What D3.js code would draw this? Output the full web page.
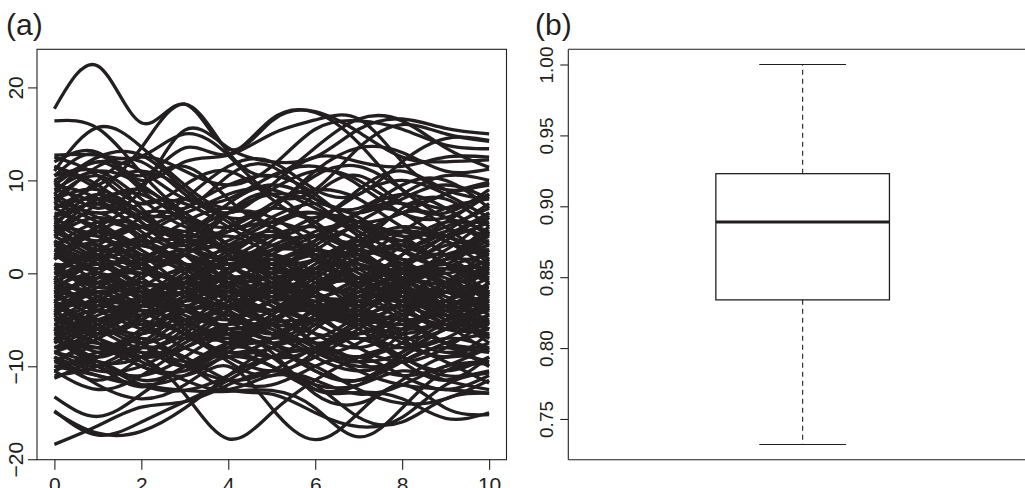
<!DOCTYPE html>
<html>
<head>
<meta charset="utf-8">
<script src="https://cdn.jsdelivr.net/npm/d3@7"></script>
<style>
  body { margin: 0; background: #fff; }
  svg { display: block; }
  text { font-family: "Liberation Sans", Arial, Helvetica, sans-serif; fill: #231f20; }
</style>
</head>
<body>
<svg id="fig" width="1025" height="488"></svg>
<script>
// ---- data ----------------------------------------------------------------
// evaluation grid shared by every curve in panel (a)
const tGrid = [0, 1, 2, 3, 4, 5, 6, 7, 8, 9, 10];

// curves running high above the bulk
const upperCurves = [
  [17.7, 22.3, 16.2, 18.2, 13.4, 16.4, 17.4, 15.2, 12.5, 12.0, 12.2],
  [16.4, 15.6, 10.8, 6.5, 5.0, 7.5, 9.0, 8.0, 5.0, 4.0, 5.5],
  [11.0, 15.7, 13.6, 9.5, 7.0, 9.0, 11.0, 10.0, 7.5, 8.5, 9.8],
  [4.5, 8.5, 13.5, 18.2, 13.0, 10.5, 13.5, 16.6, 16.4, 13.5, 11.4],
  [8.0, 6.5, 9.0, 15.4, 13.5, 12.0, 12.5, 15.5, 16.6, 15.6, 15.0],
  [12.7, 12.7, 12.6, 15.0, 12.7, 8.5, 9.0, 13.5, 16.0, 15.0, 14.2],
  [12.0, 13.0, 10.5, 13.5, 12.8, 16.6, 17.3, 14.0, 9.0, 7.0, 8.5],
  [10.5, 12.8, 10.0, 12.0, 12.7, 15.0, 16.5, 16.6, 12.0, 9.0, 9.7],
  [6.0, 10.0, 12.5, 11.0, 9.5, 11.5, 15.5, 16.4, 15.5, 13.8, 13.4],
  [9.5, 12.5, 12.7, 9.0, 6.5, 9.5, 12.5, 12.0, 11.5, 12.5, 12.5],
  [11.5, 9.0, 6.0, 8.0, 11.5, 12.0, 9.0, 8.5, 12.0, 14.5, 14.3],
  [7.5, 11.5, 12.0, 8.5, 6.0, 7.0, 11.0, 13.5, 13.0, 11.0, 11.2]
];

// curves running low below the bulk
const lowerCurves = [
  [-18.4, -16.4, -14.4, -13.8, -12.0, -10.5, -11.5, -13.0, -12.0, -10.0, -9.5],
  [-14.8, -17.4, -16.0, -13.8, -11.5, -9.0, -8.5, -10.5, -12.0, -12.5, -12.9],
  [-14.9, -17.2, -17.0, -14.5, -11.0, -8.0, -7.5, -9.5, -11.0, -10.0, -8.0],
  [-13.3, -15.4, -13.0, -10.0, -8.5, -10.0, -12.5, -12.0, -9.0, -7.0, -8.0],
  [-6.0, -7.5, -9.0, -13.0, -17.8, -15.0, -11.5, -9.0, -8.0, -9.5, -11.8],
  [-10.0, -11.0, -12.0, -12.6, -12.7, -12.6, -14.5, -17.6, -14.5, -10.5, -9.7],
  [-9.0, -12.0, -13.5, -12.0, -10.0, -14.5, -17.9, -15.0, -12.0, -14.5, -15.2],
  [-11.3, -9.0, -7.0, -9.5, -12.5, -13.0, -15.0, -16.5, -15.5, -12.0, -10.7],
  [-8.5, -10.0, -12.2, -10.0, -8.0, -9.0, -12.5, -12.8, -13.5, -15.6, -15.0],
  [-9.5, -8.0, -9.5, -11.5, -12.5, -11.0, -12.0, -15.5, -16.0, -13.5, -12.9],
  [-10.5, -12.5, -11.0, -8.0, -6.5, -8.5, -13.0, -14.0, -11.5, -9.0, -9.5],
  [-7.0, -9.5, -12.0, -12.6, -11.0, -9.0, -10.0, -12.5, -14.0, -13.5, -11.5]
];

// the dense middle of the sample: slower oscillations
const coreCurves = [
  [8.0, 10.5, 7.0, 3.0, 1.5, 3.5, 6.0, 5.5, 3.0, 4.5, 7.5],
  [6.0, 3.0, 0.5, 2.0, 5.0, 7.0, 5.5, 2.0, 0.0, 1.5, 4.0],
  [4.0, 7.5, 9.0, 6.0, 2.0, 0.0, 1.5, 4.0, 6.5, 6.0, 3.0],
  [2.0, -1.0, -3.0, -1.0, 2.5, 4.0, 2.0, -1.5, -3.0, -1.0, 2.5],
  [0.0, 2.5, 3.5, 1.0, -2.5, -4.0, -2.0, 1.5, 3.0, 1.0, -2.0],
  [-2.0, -5.0, -6.5, -4.0, 0.0, 1.5, -0.5, -4.0, -5.5, -3.0, 0.5],
  [-4.0, -1.0, 0.5, -1.5, -5.0, -7.0, -5.0, -1.5, 0.5, -1.5, -4.5],
  [-6.0, -8.5, -7.5, -4.0, -2.0, -3.5, -6.5, -8.0, -6.0, -3.0, -2.0],
  [-8.0, -5.5, -3.0, -3.5, -6.5, -9.0, -8.0, -5.0, -3.5, -5.5, -8.5],
  [-3.0, 0.5, 1.0, -2.0, -4.5, -3.0, 0.5, 2.5, 0.5, -3.0, -5.0],
  [1.0, -2.5, -4.5, -3.0, 0.5, 2.0, 0.0, -3.5, -5.0, -4.0, -1.0],
  [5.0, 4.0, 1.0, -1.0, 0.0, 2.5, 4.0, 2.5, -0.5, -2.0, -0.5],
  [-5.0, -2.5, -1.0, -2.5, -3.5, -1.5, 1.5, 2.0, -0.5, -3.5, -5.5],
  [-7.0, -9.5, -9.0, -6.0, -3.5, -4.5, -7.5, -9.0, -7.5, -5.0, -4.0],
  [3.0, 5.5, 5.0, 2.0, -1.5, -2.5, -0.5, 2.5, 4.5, 3.5, 0.5],
  [-1.0, 1.5, 4.0, 4.5, 2.0, -1.0, -2.5, -1.0, 2.0, 4.5, 4.0],
  [9.5, 8.0, 4.5, 2.5, 3.5, 6.0, 7.5, 6.0, 4.0, 5.0, 7.0],
  [7.0, 9.5, 11.0, 9.0, 5.5, 4.0, 5.5, 8.5, 10.0, 8.5, 6.0],
  [-9.5, -7.0, -5.5, -6.5, -9.0, -10.5, -9.0, -6.5, -5.5, -7.5, -10.0],
  [-4.5, -6.5, -4.5, -1.0, 1.0, -0.5, -3.5, -5.0, -3.0, 0.5, 2.0],
  [0.5, -1.5, -0.5, 2.5, 4.0, 2.0, -1.0, -2.0, 0.5, 3.0, 3.5],
  [-2.5, -3.5, -1.5, 0.5, -0.5, -3.0, -5.0, -4.0, -1.0, 0.5, -1.0],
  [-5.5, -4.0, -5.5, -8.0, -9.0, -7.0, -4.0, -3.0, -5.0, -7.5, -8.0],
  [2.5, 0.0, -2.0, -4.5, -5.5, -4.0, -1.0, 0.5, -0.5, -3.5, -6.0],
  [6.5, 5.0, 2.5, 0.5, 1.5, 4.0, 5.0, 3.5, 1.0, -1.0, 0.0],
  [-3.5, -6.0, -8.0, -6.5, -3.0, -1.5, -2.5, -5.0, -6.5, -5.0, -2.5],
  [-6.5, -4.5, -2.5, -0.5, -1.0, -3.0, -4.0, -2.5, 0.0, 1.0, -0.5],
  [3.5, 1.5, 1.5, 4.0, 6.5, 6.0, 3.0, 0.0, -1.0, 1.5, 5.0],
  [-1.5, 0.0, -2.0, -5.0, -6.5, -5.0, -2.0, 0.5, 0.0, -2.0, -3.0],
  [-8.5, -10.0, -8.0, -5.0, -4.5, -6.5, -8.5, -7.5, -4.5, -3.0, -4.0],
  [10.5, 11.0, 8.0, 5.0, 4.5, 7.0, 10.5, 11.5, 9.0, 6.0, 5.5],
  [8.5, 6.0, 5.0, 7.0, 9.5, 10.5, 8.5, 5.0, 3.5, 5.5, 8.5],
  [-10.0, -9.0, -6.5, -4.0, -3.5, -5.5, -8.0, -9.5, -8.5, -6.0, -5.5],
  [1.5, 3.5, 2.0, -1.5, -3.5, -2.0, 1.0, 3.0, 1.5, -1.5, -3.5],
  [-0.5, -3.0, -5.0, -5.5, -3.5, -1.0, 0.5, -0.5, -3.0, -5.5, -6.5],
  [-4.0, -3.0, -4.0, -6.5, -8.5, -8.0, -5.5, -3.0, -2.0, -4.5, -7.0],
  [4.5, 2.0, 0.0, 0.5, 3.0, 5.5, 6.5, 4.0, 1.0, 0.0, 1.5],
  [-7.5, -6.0, -7.5, -9.5, -8.0, -5.0, -3.5, -5.0, -7.5, -9.0, -8.0],
  [0.0, -0.5, 1.5, 3.5, 2.5, -0.5, -2.5, -2.5, -0.5, 1.5, 1.0],
  [-2.0, -1.0, -2.5, -3.5, -1.5, 1.0, 2.5, 1.0, -2.0, -4.0, -3.5],
  [5.5, 8.0, 8.5, 5.5, 2.5, 1.5, 3.5, 6.5, 7.5, 5.0, 1.5],
  [-9.0, -10.5, -10.0, -7.5, -5.5, -6.0, -8.5, -10.0, -9.5, -7.5, -6.5],
  [-6.0, -3.5, -1.5, -1.5, -3.5, -5.5, -5.0, -2.5, -1.5, -3.5, -6.0],
  [2.0, 4.5, 6.5, 6.0, 3.0, 1.0, 1.5, 3.5, 5.0, 4.0, 2.0],
  [-3.0, -5.0, -3.0, 0.0, 1.5, 0.0, -2.5, -3.0, -1.0, 1.5, 2.5],
  [7.5, 5.5, 3.0, 3.5, 6.5, 8.5, 7.5, 4.0, 1.5, 2.5, 6.0],
  [-5.0, -7.0, -8.5, -8.0, -5.5, -3.0, -3.5, -6.0, -8.0, -7.0, -4.5],
  [-1.0, 2.0, 3.0, 1.0, -1.0, 0.0, 3.0, 5.0, 4.0, 1.0, -0.5],
  [3.0, 1.0, -1.0, -1.5, 0.5, 2.5, 2.0, -0.5, -2.5, -1.0, 1.5],
  [-7.0, -5.0, -4.0, -5.5, -7.5, -7.0, -4.5, -2.0, -2.5, -5.0, -6.5],
  [-4.5, -2.0, -2.5, -5.0, -7.0, -5.5, -2.0, -0.5, -2.0, -4.5, -4.0],
  [1.0, 0.0, -2.5, -3.0, -1.0, -1.5, -4.0, -5.5, -4.0, -1.5, 0.0],
  [-8.0, -8.0, -10.0, -11.0, -8.5, -5.5, -5.5, -8.0, -9.5, -8.0, -5.0],
  [6.0, 7.5, 5.5, 2.0, 0.5, 2.0, 4.5, 5.0, 3.0, 2.0, 3.5],
  [-2.5, -0.5, 0.0, -1.0, -2.0, -1.0, -2.0, -4.5, -6.0, -5.0, -2.0],
  [4.0, 6.0, 4.0, 0.5, -2.0, -1.5, 0.5, 1.0, -0.5, -1.0, 1.0],
  [-6.5, -8.0, -6.0, -2.5, -1.5, -3.5, -5.0, -3.5, -1.0, -1.5, -4.0],
  [-3.5, -1.5, 1.0, 2.5, 1.0, -2.0, -3.5, -2.0, 0.0, -0.5, -3.0],
  [11.5, 9.5, 6.5, 6.5, 8.5, 9.0, 7.0, 5.5, 6.5, 8.5, 9.5],
  [9.0, 11.0, 9.5, 6.0, 2.5, 1.0, 2.5, 5.5, 8.0, 9.5, 8.0],
  [-10.5, -8.5, -8.5, -10.0, -11.5, -10.5, -8.0, -7.0, -9.0, -11.0, -10.5],
  [-0.5, -2.5, -3.0, -1.0, 1.0, 0.5, -1.5, -1.5, 1.0, 2.0, 0.0],
  [2.5, 3.0, 0.5, -2.5, -3.5, -1.5, 0.0, -1.5, -4.0, -5.5, -4.5],
  [-5.5, -6.5, -5.0, -3.0, -4.0, -6.5, -7.0, -4.5, -2.0, -2.5, -5.5],
  [5.0, 2.5, 3.0, 5.5, 7.0, 5.0, 1.5, -0.5, 1.0, 4.0, 6.0],
  [-1.5, -4.0, -6.0, -7.0, -5.5, -3.0, -3.0, -5.5, -7.0, -6.0, -3.0],
  [-8.5, -6.0, -3.5, -2.0, -2.5, -4.5, -6.5, -6.5, -4.5, -2.0, -1.5],
  [0.5, 1.5, -0.5, -3.5, -5.0, -3.0, 0.0, 1.0, -1.5, -4.5, -5.0],
  [7.0, 8.0, 6.0, 4.0, 4.5, 5.5, 4.0, 1.5, 1.0, 3.5, 6.5],
  [-4.0, -7.0, -9.0, -8.0, -6.0, -6.5, -9.0, -10.5, -9.0, -6.0, -5.5]
];

// the dense middle of the sample: faster oscillations
const wigglyCurves = [
  [10.0, 7.0, 9.5, 11.5, 8.0, 5.5, 8.5, 10.5, 7.5, 6.5, 9.0],
  [12.5, 10.5, 7.5, 9.5, 11.0, 8.0, 6.0, 9.0, 11.0, 9.0, 8.0],
  [8.5, 12.0, 9.0, 7.0, 10.5, 11.5, 8.0, 7.0, 9.5, 10.0, 7.0],
  [5.0, 8.5, 5.5, 3.0, 6.5, 8.5, 5.0, 3.5, 7.0, 8.0, 5.0],
  [3.5, 0.5, 3.5, 6.0, 3.0, 0.5, 3.5, 5.5, 2.5, 1.0, 4.5],
  [1.5, 4.5, 1.5, -1.0, 2.0, 4.5, 1.5, -1.0, 2.0, 4.0, 1.0],
  [-0.5, -3.5, -0.5, 2.0, -1.0, -4.0, -1.5, 1.5, -1.0, -3.5, -1.0],
  [-2.0, 1.0, -1.5, -4.0, -1.5, 1.0, -2.0, -4.5, -2.0, 0.5, -2.5],
  [-3.0, -6.0, -3.5, -1.0, -4.0, -6.5, -3.5, -1.0, -3.5, -6.0, -3.5],
  [-4.5, -2.0, -5.0, -7.0, -4.0, -1.5, -4.0, -7.0, -5.0, -2.0, -4.0],
  [-6.0, -9.0, -6.5, -4.0, -6.5, -9.0, -6.0, -4.0, -7.0, -9.0, -6.5],
  [-7.5, -5.0, -7.5, -10.0, -7.5, -5.0, -7.5, -9.5, -6.5, -4.5, -7.0],
  [-9.0, -11.5, -9.0, -7.0, -9.5, -11.0, -8.5, -7.0, -9.5, -11.5, -9.0],
  [-10.5, -9.5, -11.5, -10.0, -7.5, -8.0, -10.5, -11.5, -9.5, -8.0, -10.0],
  [-11.0, -10.0, -8.0, -9.0, -11.5, -12.0, -10.0, -9.0, -11.0, -12.5, -11.0],
  [0.0, 3.0, 5.0, 3.0, 0.0, -2.0, 0.0, 3.0, 4.5, 2.0, -1.0],
  [2.0, 0.0, -3.0, -5.0, -3.0, 0.0, 2.0, 0.5, -2.5, -4.0, -2.0],
  [-1.0, -4.0, -2.5, 0.5, 2.5, 1.0, -2.0, -3.5, -1.5, 1.5, 3.0],
  [-5.0, -3.0, 0.0, 1.0, -1.5, -4.0, -3.0, -0.5, 1.0, -1.0, -3.5],
  [-3.5, -5.5, -7.5, -5.5, -2.5, -2.0, -4.5, -6.5, -4.5, -2.0, -2.5],
  [4.5, 6.5, 3.5, 1.0, 2.0, 5.0, 6.5, 4.5, 2.5, 4.0, 6.5],
  [6.0, 4.0, 6.0, 8.0, 6.0, 3.0, 3.5, 6.5, 8.5, 7.0, 4.0],
  [9.0, 7.5, 5.0, 4.5, 7.5, 9.5, 8.0, 6.5, 8.5, 10.5, 10.0],
  [-6.5, -4.0, -2.0, -3.5, -6.0, -7.5, -5.5, -3.0, -4.5, -7.5, -8.5],
  [-8.0, -6.5, -4.0, -6.0, -8.5, -7.0, -4.0, -3.5, -6.5, -8.5, -7.5],
  [1.0, -1.0, 1.0, 2.0, 0.0, -2.5, -1.5, 1.5, 2.5, 0.0, -2.0],
  [-2.5, 0.0, 2.0, 0.0, -3.0, -4.0, -1.5, 0.5, -1.0, -4.0, -5.5],
  [3.0, 5.0, 7.5, 7.5, 5.0, 3.0, 4.0, 6.5, 6.5, 3.5, 2.5],
  [-0.5, 1.0, -1.5, -2.0, 0.5, 3.0, 4.0, 2.0, 0.0, 1.5, 4.5],
  [-4.0, -6.5, -5.0, -2.0, -2.5, -5.5, -7.5, -6.0, -3.5, -4.5, -7.5],
  [7.0, 4.5, 1.5, 2.0, 4.5, 5.0, 2.0, 0.5, 3.0, 5.5, 4.5],
  [-7.0, -10.0, -11.0, -9.0, -6.5, -7.5, -10.5, -11.5, -8.5, -5.5, -6.0],
  [10.0, 12.0, 11.0, 8.0, 8.0, 10.5, 11.5, 9.5, 6.5, 6.0, 8.5],
  [-9.5, -11.0, -12.0, -11.0, -9.0, -10.0, -12.0, -12.0, -10.5, -11.5, -12.5],
  [-1.5, -2.0, -4.0, -6.5, -7.0, -4.5, -1.5, -1.0, -3.5, -6.0, -6.0],
  [0.5, 2.0, 0.5, -0.5, 1.5, 2.0, -0.5, -2.5, -1.5, 0.5, 0.5],
  [-5.5, -7.5, -10.0, -10.5, -8.0, -5.0, -4.0, -6.0, -9.0, -10.5, -9.0],
  [2.5, 1.5, 3.0, 3.5, 1.0, -1.5, 0.0, 3.0, 3.5, 1.0, 0.0],
  [-3.0, -2.0, -3.5, -2.5, -0.5, -1.0, -3.5, -5.0, -4.5, -2.0, 1.0],
  [4.0, 1.5, -1.5, -2.0, 0.5, 1.0, -2.0, -3.5, -1.0, 2.0, 2.5],
  [-8.5, -7.5, -9.0, -7.0, -4.0, -2.5, -4.5, -7.0, -6.0, -3.5, -3.0],
  [5.5, 3.5, 5.0, 4.0, 1.0, -0.5, 1.5, 3.0, 1.0, -1.0, -2.0],
  [-6.0, -5.5, -3.5, -4.0, -6.0, -4.5, -1.5, -1.0, -3.0, -3.5, -1.0],
  [8.0, 9.0, 6.5, 3.5, 3.0, 4.0, 2.5, 2.0, 4.5, 7.0, 8.0],
  [-2.0, -3.0, -5.5, -4.0, -4.5, -7.5, -8.0, -5.5, -5.0, -7.5, -8.0]
];

const xTicksA = [0, 2, 4, 6, 8, 10];
const yTicksA = [-20, -10, 0, 10, 20];

// box-plot summary: lower whisker, Q1, median, Q3, upper whisker
const boxStats = [0.732, 0.834, 0.889, 0.923, 1.000];
const yTicksB = [0.75, 0.80, 0.85, 0.90, 0.95, 1.00];

const panelLabels = ["(a)", "(b)"];

// ---- layout --------------------------------------------------------------
const ink = "#231f20";
const svg = d3.select("#fig");

const frameTop = 49.3, frameBottom = 459.7;
const A = { left: 37, right: 506.5 };
const B = { left: 568.3, right: 1037 };

// R-style 4% padding on both axes
const xA = d3.scaleLinear().domain([-0.4, 10.4]).range([A.left, A.right]);
const yA = d3.scaleLinear().domain([-20.05, 24.1]).range([frameBottom, frameTop]);

const lo = d3.min(boxStats), hi = d3.max(boxStats), pad = (hi - lo) * 0.04;
const yB = d3.scaleLinear().domain([lo - pad, hi + pad]).range([frameBottom, frameTop]);
const xB = d3.scaleLinear().domain([0.46, 1.54]).range([B.left, B.right]);

// ---- panel (a): functional curves -----------------------------------------
svg.append("clipPath").attr("id", "clipA")
  .append("rect").attr("x", A.left).attr("y", frameTop)
  .attr("width", A.right - A.left).attr("height", frameBottom - frameTop);

const line = d3.line()
  .x((d, i) => xA(tGrid[i]))
  .y(d => yA(d))
  .curve(d3.curveNatural);

const allCurves = coreCurves.concat(wigglyCurves, upperCurves, lowerCurves);
svg.append("g").attr("clip-path", "url(#clipA)")
  .selectAll("path").data(allCurves).join("path")
  .attr("d", line)
  .attr("fill", "none")
  .attr("stroke", ink)
  .attr("stroke-width", 3.3)
  .attr("stroke-linejoin", "round")
  .attr("stroke-linecap", "butt");

svg.append("rect")
  .attr("x", A.left).attr("y", frameTop)
  .attr("width", A.right - A.left).attr("height", frameBottom - frameTop)
  .attr("fill", "none").attr("stroke", ink).attr("stroke-width", 1.1);

const fmtMinus = v => (v < 0 ? "\u2212" + Math.abs(v) : String(v));

const axA_x = svg.append("g").attr("transform", `translate(0,${frameBottom})`)
  .call(d3.axisBottom(xA).tickValues(xTicksA).tickSize(10).tickPadding(7).tickFormat(d3.format("d")));
const axA_y = svg.append("g").attr("transform", `translate(${A.left},0)`)
  .call(d3.axisLeft(yA).tickValues(yTicksA).tickSize(9).tickFormat(fmtMinus));

// ---- panel (b): box plot --------------------------------------------------
svg.append("line")
  .attr("x1", B.left).attr("x2", B.right)
  .attr("y1", frameTop).attr("y2", frameTop)
  .attr("stroke", ink).attr("stroke-width", 1.1);
svg.append("line")
  .attr("x1", B.left).attr("x2", B.right)
  .attr("y1", frameBottom).attr("y2", frameBottom)
  .attr("stroke", ink).attr("stroke-width", 1.1);
svg.append("line")
  .attr("x1", B.left).attr("x2", B.left)
  .attr("y1", frameTop).attr("y2", frameBottom)
  .attr("stroke", ink).attr("stroke-width", 1.1);

const [wLo, q1, med, q3, wHi] = boxStats;
const cx = xB(1);
const gB = svg.append("g").attr("stroke", ink).attr("fill", "none");

// dashed whiskers
gB.append("line").attr("x1", cx).attr("x2", cx).attr("y1", yB(q3)).attr("y2", yB(wHi))
  .attr("stroke-width", 1.1).attr("stroke-dasharray", "5,4");
gB.append("line").attr("x1", cx).attr("x2", cx).attr("y1", yB(q1)).attr("y2", yB(wLo))
  .attr("stroke-width", 1.1).attr("stroke-dasharray", "5,4");
// whisker caps
[wLo, wHi].forEach(v => {
  gB.append("line").attr("x1", xB(0.9)).attr("x2", xB(1.1))
    .attr("y1", yB(v)).attr("y2", yB(v)).attr("stroke-width", 1.2);
});
// box
gB.append("rect")
  .attr("x", xB(0.8)).attr("width", xB(1.2) - xB(0.8))
  .attr("y", yB(q3)).attr("height", yB(q1) - yB(q3))
  .attr("fill", "#fff").attr("stroke-width", 1.3);
// median
gB.append("line").attr("x1", xB(0.8)).attr("x2", xB(1.2))
  .attr("y1", yB(med)).attr("y2", yB(med)).attr("stroke-width", 3);

const axB_y = svg.append("g").attr("transform", `translate(${B.left},0)`)
  .call(d3.axisLeft(yB).tickValues(yTicksB).tickSize(8).tickFormat(d3.format(".2f")));

// ---- axis styling: rotated tick labels, no extra domain line ---------------
[axA_x, axA_y, axB_y].forEach(g => {
  g.select(".domain").remove();
  g.selectAll(".tick line").attr("stroke", ink).attr("stroke-width", 1.1);
});
axA_x.selectAll("text").attr("font-size", 21).attr("fill", ink);

axA_y.selectAll("text")
  .attr("font-size", 21).attr("fill", ink)
  .attr("text-anchor", "middle").attr("x", null).attr("dy", null)
  .attr("transform", "translate(-14,0) rotate(-90)");

axB_y.selectAll("text")
  .attr("font-size", 19).attr("fill", ink)
  .attr("text-anchor", "middle").attr("x", null).attr("dy", null)
  .attr("transform", "translate(-15,0) rotate(-90)");

// ---- panel letters -------------------------------------------------------
svg.append("text").attr("x", 6).attr("y", 35).attr("font-size", 30).text(panelLabels[0]);
svg.append("text").attr("x", 535).attr("y", 35).attr("font-size", 30).text(panelLabels[1]);
</script>
</body>
</html>
